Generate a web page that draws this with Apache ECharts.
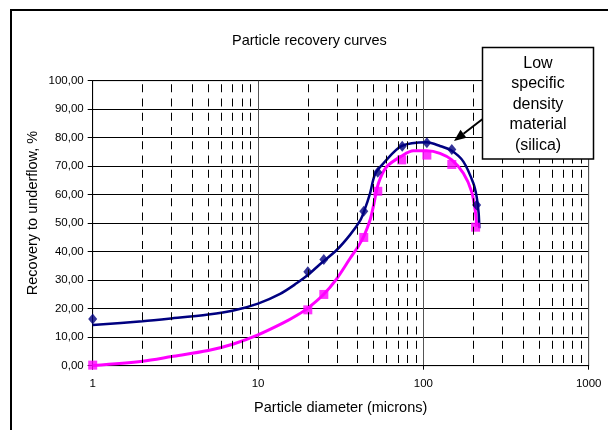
<!DOCTYPE html>
<html>
<head>
<meta charset="utf-8">
<title>Particle recovery curves</title>
<script src="https://cdn.jsdelivr.net/npm/echarts@6/dist/echarts.min.js"></script>
<style>
  html, body { margin: 0; padding: 0; background: #fff; }
  #main { width: 608px; height: 430px; }
</style>
</head>
<body>
<div id="main"></div>
<script>
// measured points (diamonds / squares)
var silicaPoints = [[1, 16.4], [20, 33.0], [25, 37.3], [43.6, 54.2], [53, 67.9], [74.5, 77.0], [105, 78.2], [148.6, 75.9], [210, 56.4]];
var heavyPoints = [[1, 0.2], [20, 19.6], [25, 25.0], [43.6, 45.0], [53, 61.2], [74, 72.2], [105, 73.9], [148.6, 70.6], [207, 48.6]];

// fitted curves
var silicaCurve = [[1, 14.3], [2, 15.6], [3, 16.6], [5, 18.0], [7, 19.3], [10, 21.8], [13.6, 25.2], [17.1, 28.9], [20, 31.8], [23.7, 35.6], [29.9, 40.6], [36, 45.9], [41.6, 51.1], [44, 54.5], [47.6, 60.5], [51, 67.2], [57.3, 71.0], [74, 77.1], [105, 78.4], [126, 77.1], [148.6, 75.4], [174.6, 71.6], [200.6, 64.0], [210, 59.3], [216, 53.5], [218, 48.2]];
var heavyCurve = [[1, 0.1], [2, 1.6], [3, 3.2], [5, 5.3], [7.1, 7.6], [10, 10.8], [14.2, 15.0], [17.1, 17.6], [20, 20.2], [24.8, 24.9], [29.9, 30.5], [36, 37.6], [40.5, 42.0], [43.8, 45.6], [47.6, 51.1], [49.8, 55.8], [53.5, 64.0], [60, 69.8], [74, 73.6], [87, 75.4], [105, 75.4], [126, 74.5], [148.6, 72.2], [174.6, 67.5], [196, 61.0], [207, 53.5], [210, 48.8]];

// dashed minor gridlines of the log axis
var minorGrid = [2, 3, 4, 5, 6, 7, 8, 9, 20, 30, 40, 50, 60, 70, 80, 90, 200, 300, 400, 500, 600, 700, 800, 900];

var FONT = "'Liberation Sans', Arial, sans-serif";
var chart = echarts.init(document.getElementById('main'));

var option = {
  animation: false,
  backgroundColor: '#fff',
  title: {
    text: 'Particle recovery curves',
    left: 232, top: 33, padding: 0,
    textStyle: { fontFamily: FONT, fontSize: 14.5, fontWeight: 'normal', color: '#000' }
  },
  grid: {
    left: 92.7, right: 19.3, top: 80.7, bottom: 64.3,
    show: true, borderColor: '#808080', borderWidth: 1
  },
  xAxis: {
    type: 'log', logBase: 10, min: 1, max: 1000,
    name: 'Particle diameter (microns)',
    nameLocation: 'middle', nameGap: 35,
    nameTextStyle: { fontFamily: FONT, fontSize: 14.5, color: '#000' },
    axisLine: { lineStyle: { color: '#000', width: 1 } },
    axisTick: { show: true, length: 4, lineStyle: { color: '#000' } },
    axisLabel: {
      margin: 12, fontFamily: FONT, fontSize: 11.5, color: '#000',
      formatter: function (v) { return String(Math.round(v)); }
    },
    splitLine: { show: true, lineStyle: { color: '#555', width: 1 } }
  },
  yAxis: {
    type: 'value', min: 0, max: 100, interval: 10,
    axisLine: { show: true, lineStyle: { color: '#000', width: 1 } },
    axisTick: { show: true, length: 5, lineStyle: { color: '#000' } },
    axisLabel: {
      margin: 9, fontFamily: FONT, fontSize: 11.5, color: '#000',
      formatter: function (v) { return v.toFixed(2).replace('.', ','); }
    },
    splitLine: { show: true, lineStyle: { color: '#000', width: 1 } }
  },
  series: [
    {
      type: 'line', data: [], silent: true, z: 1,
      markLine: {
        silent: true, symbol: 'none', label: { show: false },
        lineStyle: { color: '#000', width: 1, type: [8, 6.25], dashOffset: 11.55 },
        data: minorGrid.map(function (v) { return { xAxis: v }; })
      }
    },
    {
      name: 'Heavy curve', type: 'line', data: heavyCurve, smooth: 0.3,
      showSymbol: false, z: 3,
      lineStyle: { color: '#ff00ff', width: 3 }
    },
    {
      name: 'Silica curve', type: 'line', data: silicaCurve, smooth: 0.3,
      showSymbol: false, z: 3,
      lineStyle: { color: '#000080', width: 2.5 }
    },
    {
      name: 'Heavy', type: 'scatter', data: heavyPoints, clip: false, z: 4,
      symbol: 'rect', symbolSize: 9,
      itemStyle: { color: '#ff00ff' }
    },
    {
      name: 'Silica', type: 'scatter', data: silicaPoints, clip: false, z: 4,
      symbol: 'diamond', symbolSize: [9, 11],
      itemStyle: { color: '#000080' }
    }
  ],
  graphic: [
    // outer chart frame
    { type: 'rect', silent: true, shape: { x: 11, y: 10, width: 620, height: 440 },
      style: { fill: null, stroke: '#000', lineWidth: 2 } },
    // y axis title
    { type: 'text', silent: true, x: 33, y: 213, rotation: Math.PI / 2,
      style: { text: 'Recovery to underflow, %', font: '14.5px ' + FONT, fill: '#000',
               textAlign: 'center', textVerticalAlign: 'middle' } },
    // callout
    { type: 'rect', silent: true, z: 10, shape: { x: 482.5, y: 47.5, width: 111, height: 111.5 },
      style: { fill: '#fff', stroke: '#000', lineWidth: 1.5 } },
    { type: 'text', silent: true, z: 11, x: 538, y: 104.5,
      style: { text: 'Low\nspecific\ndensity\nmaterial\n(silica)', font: '16px ' + FONT,
               lineHeight: 20.5, fill: '#000', textAlign: 'center', textVerticalAlign: 'middle' } },
    { type: 'line', silent: true, z: 11, shape: { x1: 482.3, y1: 119.3, x2: 463.5, y2: 133.7 },
      style: { stroke: '#000', lineWidth: 2 } },
    { type: 'polygon', silent: true, z: 11, shape: { points: [[454, 141], [466.5, 137.7], [460.5, 129.7]] },
      style: { fill: '#000' } }
  ]
};

chart.setOption(option);
</script>
</body>
</html>
